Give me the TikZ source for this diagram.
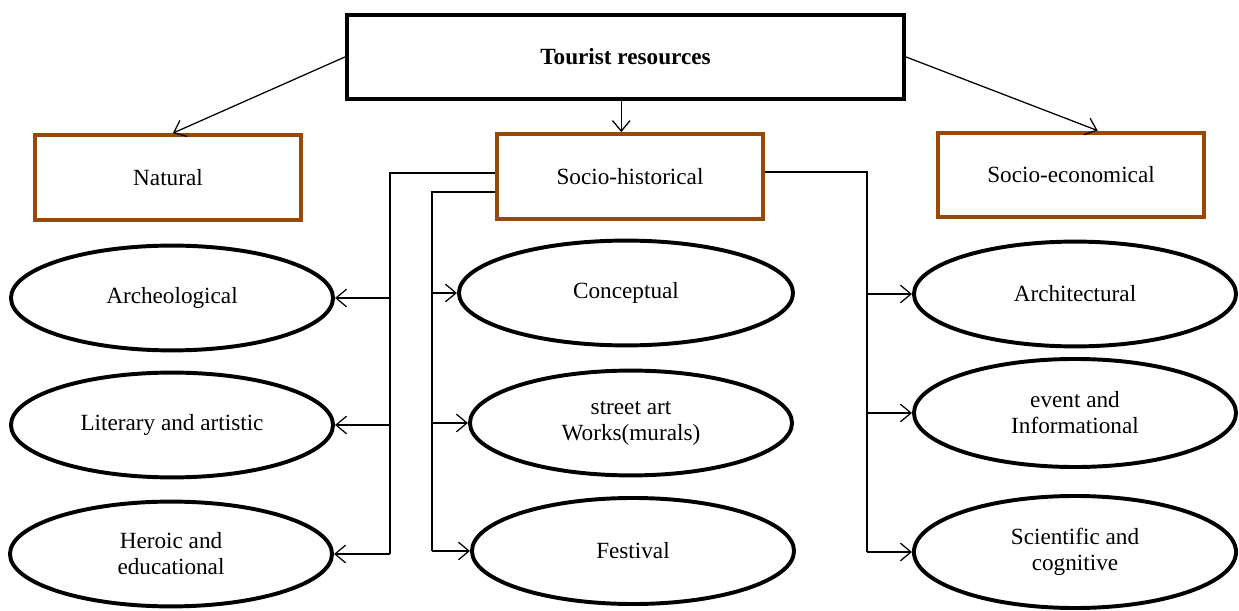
\documentclass[tikz,border=0pt]{standalone}
\usepackage{fontspec}
\setmainfont{Liberation Serif}
\usepackage{tikz}
\usetikzlibrary{shapes.geometric,arrows.meta}
\definecolor{boxbrown}{RGB}{152,72,7}

\begin{document}
\begin{tikzpicture}[x=0.025cm,y=-0.025cm,font=\fontsize{16.5}{18.5}\selectfont]
	\tikzstyle{topbox}=[draw,line width=2.8pt,minimum width=13.93cm,minimum height=2.1cm]
	\tikzstyle{group}=[draw=boxbrown,line width=2.8pt,minimum width=6.65cm,minimum height=2.12cm]
	\tikzstyle{kind}=[draw,shape=ellipse,line width=2.8pt,inner sep=0pt,minimum width=8.05cm,minimum height=2.62cm,align=center]
	\tikzstyle{arr}=[-{Straight Barb[length=7.5pt,width=12.5pt]},line width=0.9pt]
	\tikzstyle{bus}=[line width=0.9pt]
	\useasboundingbox (0,0) rectangle (1239,611);
	
	\node[topbox](top) at (625.5,57){\bfseries Tourist resources};
	
	\node[group](nat) at (168,177.5){Natural};
	\node[group](hist) at (630,176.5){Socio-historical};
	\node[group](econ) at (1071,175){Socio-economical};
	
	\node[kind](arch) at (172,298){Archeological};
	\node[kind](lit) at (172,425){Literary and artistic};
	\node[kind](hero) at (171,554){Heroic and\\educational};
	
	\node[kind,minimum width=8.35cm](conc) at (626,293){Conceptual};
	\node[kind](street) at (631,423){street art\\Works(murals)};
	\node[kind,minimum height=2.65cm](fest) at (633,551){Festival};
	
	\node[kind](archi) at (1075,294){Architectural};
	\node[kind,minimum height=2.7cm](event) at (1075,413){event and\\Informational};
	\node[kind,minimum height=2.8cm](sci) at (1075,552){Scientific and\\cognitive};
	
	\draw[arr] (top.west) -- ([xshift=3.5pt]nat.north);
	\draw[arr] ([xshift=-3pt]top.south) -- ([xshift=-3pt]top.south |- hist.north);
	\draw[arr] (top.east) -- ([xshift=19pt]econ.north);
	
	\coordinate (lb) at (390,173);
	\coordinate (ib) at (432,192);
	\coordinate (rb) at (867,172);
	
	\draw[bus] (hist.west |- lb) -- (lb) -- (lb |- hero.east);
	\draw[arr] (lb |- arch.east) -- (arch.east);
	\draw[arr] (lb |- lit.east) -- (lit.east);
	\draw[arr] (lb |- hero.east) -- (hero.east);
	
	\draw[bus] (hist.west |- ib) -- (ib) -- (ib |- fest.west);
	\draw[arr] (ib |- conc.west) -- (conc.west);
	\draw[arr] (ib |- street.west) -- (street.west);
	\draw[arr] (ib |- fest.west) -- (fest.west);
	
	\draw[bus] (hist.east |- rb) -- (rb) -- (rb |- sci.west);
	\draw[arr] (rb |- archi.west) -- (archi.west);
	\draw[arr] (rb |- event.west) -- (event.west);
	\draw[arr] (rb |- sci.west) -- (sci.west);
	
\end{tikzpicture}
\end{document}
